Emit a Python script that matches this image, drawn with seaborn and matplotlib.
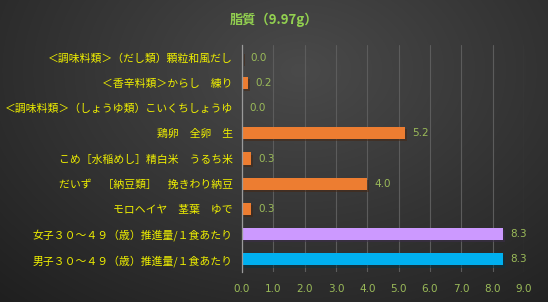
import numpy as np
import pandas as pd
import matplotlib
matplotlib.use("Agg")
import matplotlib.pyplot as plt
import matplotlib.patheffects as pe
import seaborn as sns

title = "脂質（9.97g）"
categories = [
    "＜調味料類＞（だし類）顆粒和風だし",
    "＜香辛料類＞からし　練り",
    "＜調味料類＞（しょうゆ類）こいくちしょうゆ",
    "鶏卵　全卵　生",
    "こめ［水稲めし］精白米　うるち米",
    "だいず　［納豆類］　挽きわり納豆",
    "モロヘイヤ　茎葉　ゆで",
    "女子３０～４９（歳）推進量/１食あたり",
    "男子３０～４９（歳）推進量/１食あたり",
]
values = [0.04, 0.2, 0.0, 5.2, 0.3, 4.0, 0.3, 8.34, 8.34]
colors = ["#ed7d31"] * 7 + ["#cc99ff", "#00b0f0"]
xticks = [0, 1, 2, 3, 4, 5, 6, 7, 8, 9]

sns.set_style("dark")
plt.rcParams["font.family"] = ["Noto Sans CJK JP", "DejaVu Sans"]

fig = plt.figure(figsize=(5.48, 3.02), dpi=100)

# background gradient
bg = fig.add_axes([0, 0, 1, 1], zorder=-10)
yy, xx = np.mgrid[0:302, 0:548]
d = np.sqrt(((xx - 300) / 420.0) ** 2 + ((yy - 70) / 300.0) ** 2)
lum = np.clip(0.29 - 0.16 * d, 0.12, 0.3)
img = np.dstack([lum, lum, lum])
bg.imshow(img, aspect="auto", extent=[0, 1, 0, 1])
bg.axis("off")

ax = fig.add_axes([242 / 548, 1 - 272 / 302, (524 - 242) / 548, (272 - 45) / 302])
ax.set_facecolor("none")

df = pd.DataFrame({"cat": categories, "val": values})
sns.barplot(data=df, y="cat", x="val", hue="cat", palette=colors, orient="h",
            legend=False, width=0.48, ax=ax, saturation=1)

for p in ax.patches:
    p.set_path_effects([pe.SimplePatchShadow(offset=(1.5, -1.5), alpha=0.5), pe.Normal()])
    p.set_edgecolor("none")

label_col = "#9bbb59"
for i, v in enumerate(values):
    ax.text(v + 0.22, i, f"{v:.1f}", va="center", ha="left", color=label_col,
            fontsize=7.5, family=["DejaVu Sans"])

ax.set_xlim(0, 9)
ax.set_ylim(len(categories) - 0.5, -0.5)
ax.set_xticks(xticks)
ax.set_xticklabels([f"{t:.1f}" for t in xticks], color=label_col, fontsize=7.5,
                   family=["DejaVu Sans"])
ax.tick_params(axis="x", length=0, pad=9)
ax.tick_params(axis="y", length=0, pad=6.5)
for lab in ax.get_yticklabels():
    lab.set_color("#f0f000")
    lab.set_fontsize(7.8)
ax.set_xlabel("")
ax.set_ylabel("")
ax.grid(axis="x", color="#5c5c5c", linewidth=0.8)
ax.grid(axis="y", visible=False)
ax.set_axisbelow(True)
for s in ["top", "right", "bottom"]:
    ax.spines[s].set_visible(False)
ax.spines["left"].set_color("#9a9a9a")
ax.spines["left"].set_linewidth(0.9)

fig.text(0.5, 1 - 20 / 302, title, ha="center", va="center", color="#92d050",
         fontsize=9.5, fontweight="bold")

fig.savefig("out.png", dpi=100)
